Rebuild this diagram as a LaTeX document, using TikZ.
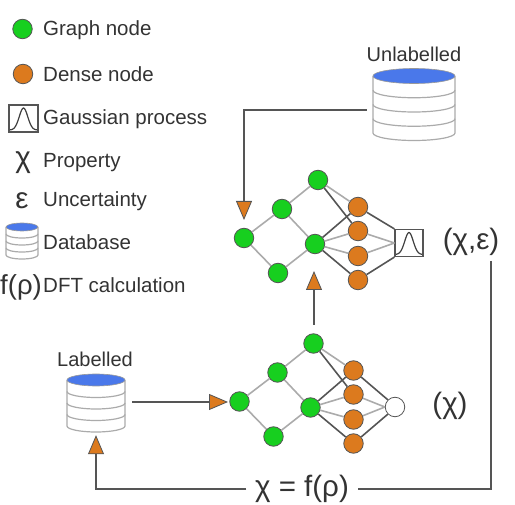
\documentclass[tikz,border=0pt]{standalone}
\usepackage{fontspec}
\setmainfont{Liberation Sans}
\usetikzlibrary{arrows.meta}

\definecolor{graphgreen}{HTML}{17CF1F}
\definecolor{densebrown}{HTML}{DC7A1E}
\definecolor{dbblue}{HTML}{4A78EA}
\definecolor{darkline}{HTML}{555555}
\definecolor{lightline}{HTML}{ABABAB}
\definecolor{inktext}{HTML}{333333}

\tikzset{
    graphnode/.style={circle, draw=darkline, fill=graphgreen, line width=0.8pt, inner sep=0pt, minimum size=19.5pt},
    densenode/.style={circle, draw=darkline, fill=densebrown, line width=0.8pt, inner sep=0pt, minimum size=19.5pt},
    outnode/.style={circle, draw=darkline, fill=white, line width=0.8pt, inner sep=0pt, minimum size=19.5pt},
    gpbox/.style={rectangle, draw=darkline, fill=white, line width=1.2pt, inner sep=0pt, minimum width=28pt, minimum height=27pt,
                  path picture={\draw[shift={(path picture bounding box.center)}, x=1pt, y=1pt, line width=1.2pt, black!75]
                      plot[domain=-14:14, samples=31, smooth] (\x, {-11.5+22*exp(-(\x*\x)/36)});}},
    legendtext/.style={anchor=base west, inner sep=0pt, text=inktext, font=\fontsize{20.5}{24}\selectfont},
    dblabel/.style={inner sep=0pt, text=inktext, font=\fontsize{20}{24}\selectfont},
    bigtext/.style={inner sep=0pt, text=inktext, font=\fontsize{29.5}{34}\selectfont},
    dbspot/.style={draw=none, fill=none, inner sep=0pt},
    heavyedge/.style={darkline, line width=1.6pt},
    lightedge/.style={lightline, line width=1.6pt},
    flow/.style={darkline, line width=1.9pt,
                 -{Triangle[length=19pt, width=16pt, fill=densebrown, line width=0.8pt]}},
    plainflow/.style={darkline, line width=1.9pt}
}

% centre x, top y, x radius, y radius, height
\newcommand{\dbstack}[5]{
    \draw[lightline, fill=white, line width=1.2pt] ({#1-#3}, #2) -- ({#1-#3}, {#2+#5})
        arc (180:360:#3pt and #4pt) -- ({#1+#3}, #2);
    \foreach \k in {1, 2, 3} {
            \draw[lightline, line width=1.2pt] ({#1-#3}, {#2+\k*#5/4}) arc (180:360:#3pt and #4pt);
        }
    \draw[darkline!60, fill=dbblue, line width=0.6pt] (#1, #2) ellipse (#3pt and #4pt);
}

% the nodes and edges of one network, the last node is called end
\newcommand{\netbody}{
    \foreach \n/\x/\y in {a/244/238, b/282/209, c/278/273, d/318/180, e/315/244} {
            \node[graphnode] (\n) at (\x, \y) {};
        }
    \foreach \n/\y in {p/207, q/231, r/256, s/280} {
            \node[densenode] (\n) at (358, \y) {};
        }
    \foreach \i/\j in {a/b, a/c, b/d, b/e, c/e, d/p, e/q, e/r} {
            \draw[lightedge] (\i) -- (\j);
        }
    \foreach \i/\j in {d/q, e/p, e/s} {
            \draw[heavyedge] (\i) -- (\j);
        }
    \draw[heavyedge] (p) -- (end.north west);
    \draw[heavyedge] (s) -- (end.south west);
    \draw[lightedge] (q) -- (end.west);
    \draw[lightedge] (r) -- (end.west);
}

\begin{document}
\begin{tikzpicture}[x=1pt, y=-1pt]
    \useasboundingbox (0, 0) rectangle (515, 505);

    % legend
    \node[graphnode] (keygraph) at (22.5, 29) {};
    \node[densenode] (keydense) at (23, 74) {};
    \node[gpbox, minimum width=29pt] (keygp) at (23.5, 118.5) {};
    \node[bigtext] (keychi) at (23, 163) {χ};
    \node[bigtext] (keyeps) at (22, 201) {ε};
    \dbstack{22}{227}{16}{4}{28}
    \node[bigtext, anchor=base west, font=\fontsize{27.5}{32}\selectfont] (keyf) at (0, 295) {f(ρ)};

    \foreach \n/\y/\t in {graph/36/Graph node, dense/81.5/Dense node, gauss/125/Gaussian process,
                          prop/168/Property, unc/207/Uncertainty, base/250/Database, dft/293/DFT calculation} {
            \node[legendtext] (text\n) at (43, \y) {\t};
        }

    % databases
    \node[dblabel] (unlabeltext) at (414, 54) {Unlabelled};
    \dbstack{414}{76}{41}{7.5}{57}
    \node[dbspot, minimum width=94pt, minimum height=60pt] (unlabelled) at (414, 110) {};

    \node[dblabel] (labeltext) at (95, 359) {Labelled};
    \dbstack{96}{380}{29}{6}{46}
    \node[dbspot, minimum width=72pt, minimum height=60pt] (labelled) at (96, 405) {};

    % upper network
    \begin{scope}[name prefix=upper-]
        \node[gpbox] (end) at (409, 243) {};
        \netbody
    \end{scope}

    % lower network
    \begin{scope}[shift={(-4.5, 163.5)}, name prefix=lower-]
        \node[outnode] (end) at (399.5, 243.5) {};
        \netbody
    \end{scope}

    % outputs
    \node[bigtext] (upperval) at (471, 242) {(χ,ε)};
    \node[bigtext] (lowerval) at (450, 406) {(χ)};
    \node[bigtext, minimum width=111pt] (fit) at (302, 489) {χ = f(ρ)};

    \coordinate (valfoot) at (491, 261);
    \coordinate (uptail) at (314, 325);
    \coordinate (uphead) at (314, 271);
    \coordinate (unlabelhead) at (244, 220);
    \coordinate (lowerhead) at (228, 402);

    % feedback loop
    \draw[flow] (unlabelled.west) -| (unlabelhead);
    \draw[flow] (labelled.east |- lowerhead) -- (lowerhead);
    \draw[flow] (uptail) -- (uphead);
    \draw[plainflow] (valfoot) |- (fit.east);
    \draw[flow] (fit.west) -| (labelled.south);
\end{tikzpicture}
\end{document}
